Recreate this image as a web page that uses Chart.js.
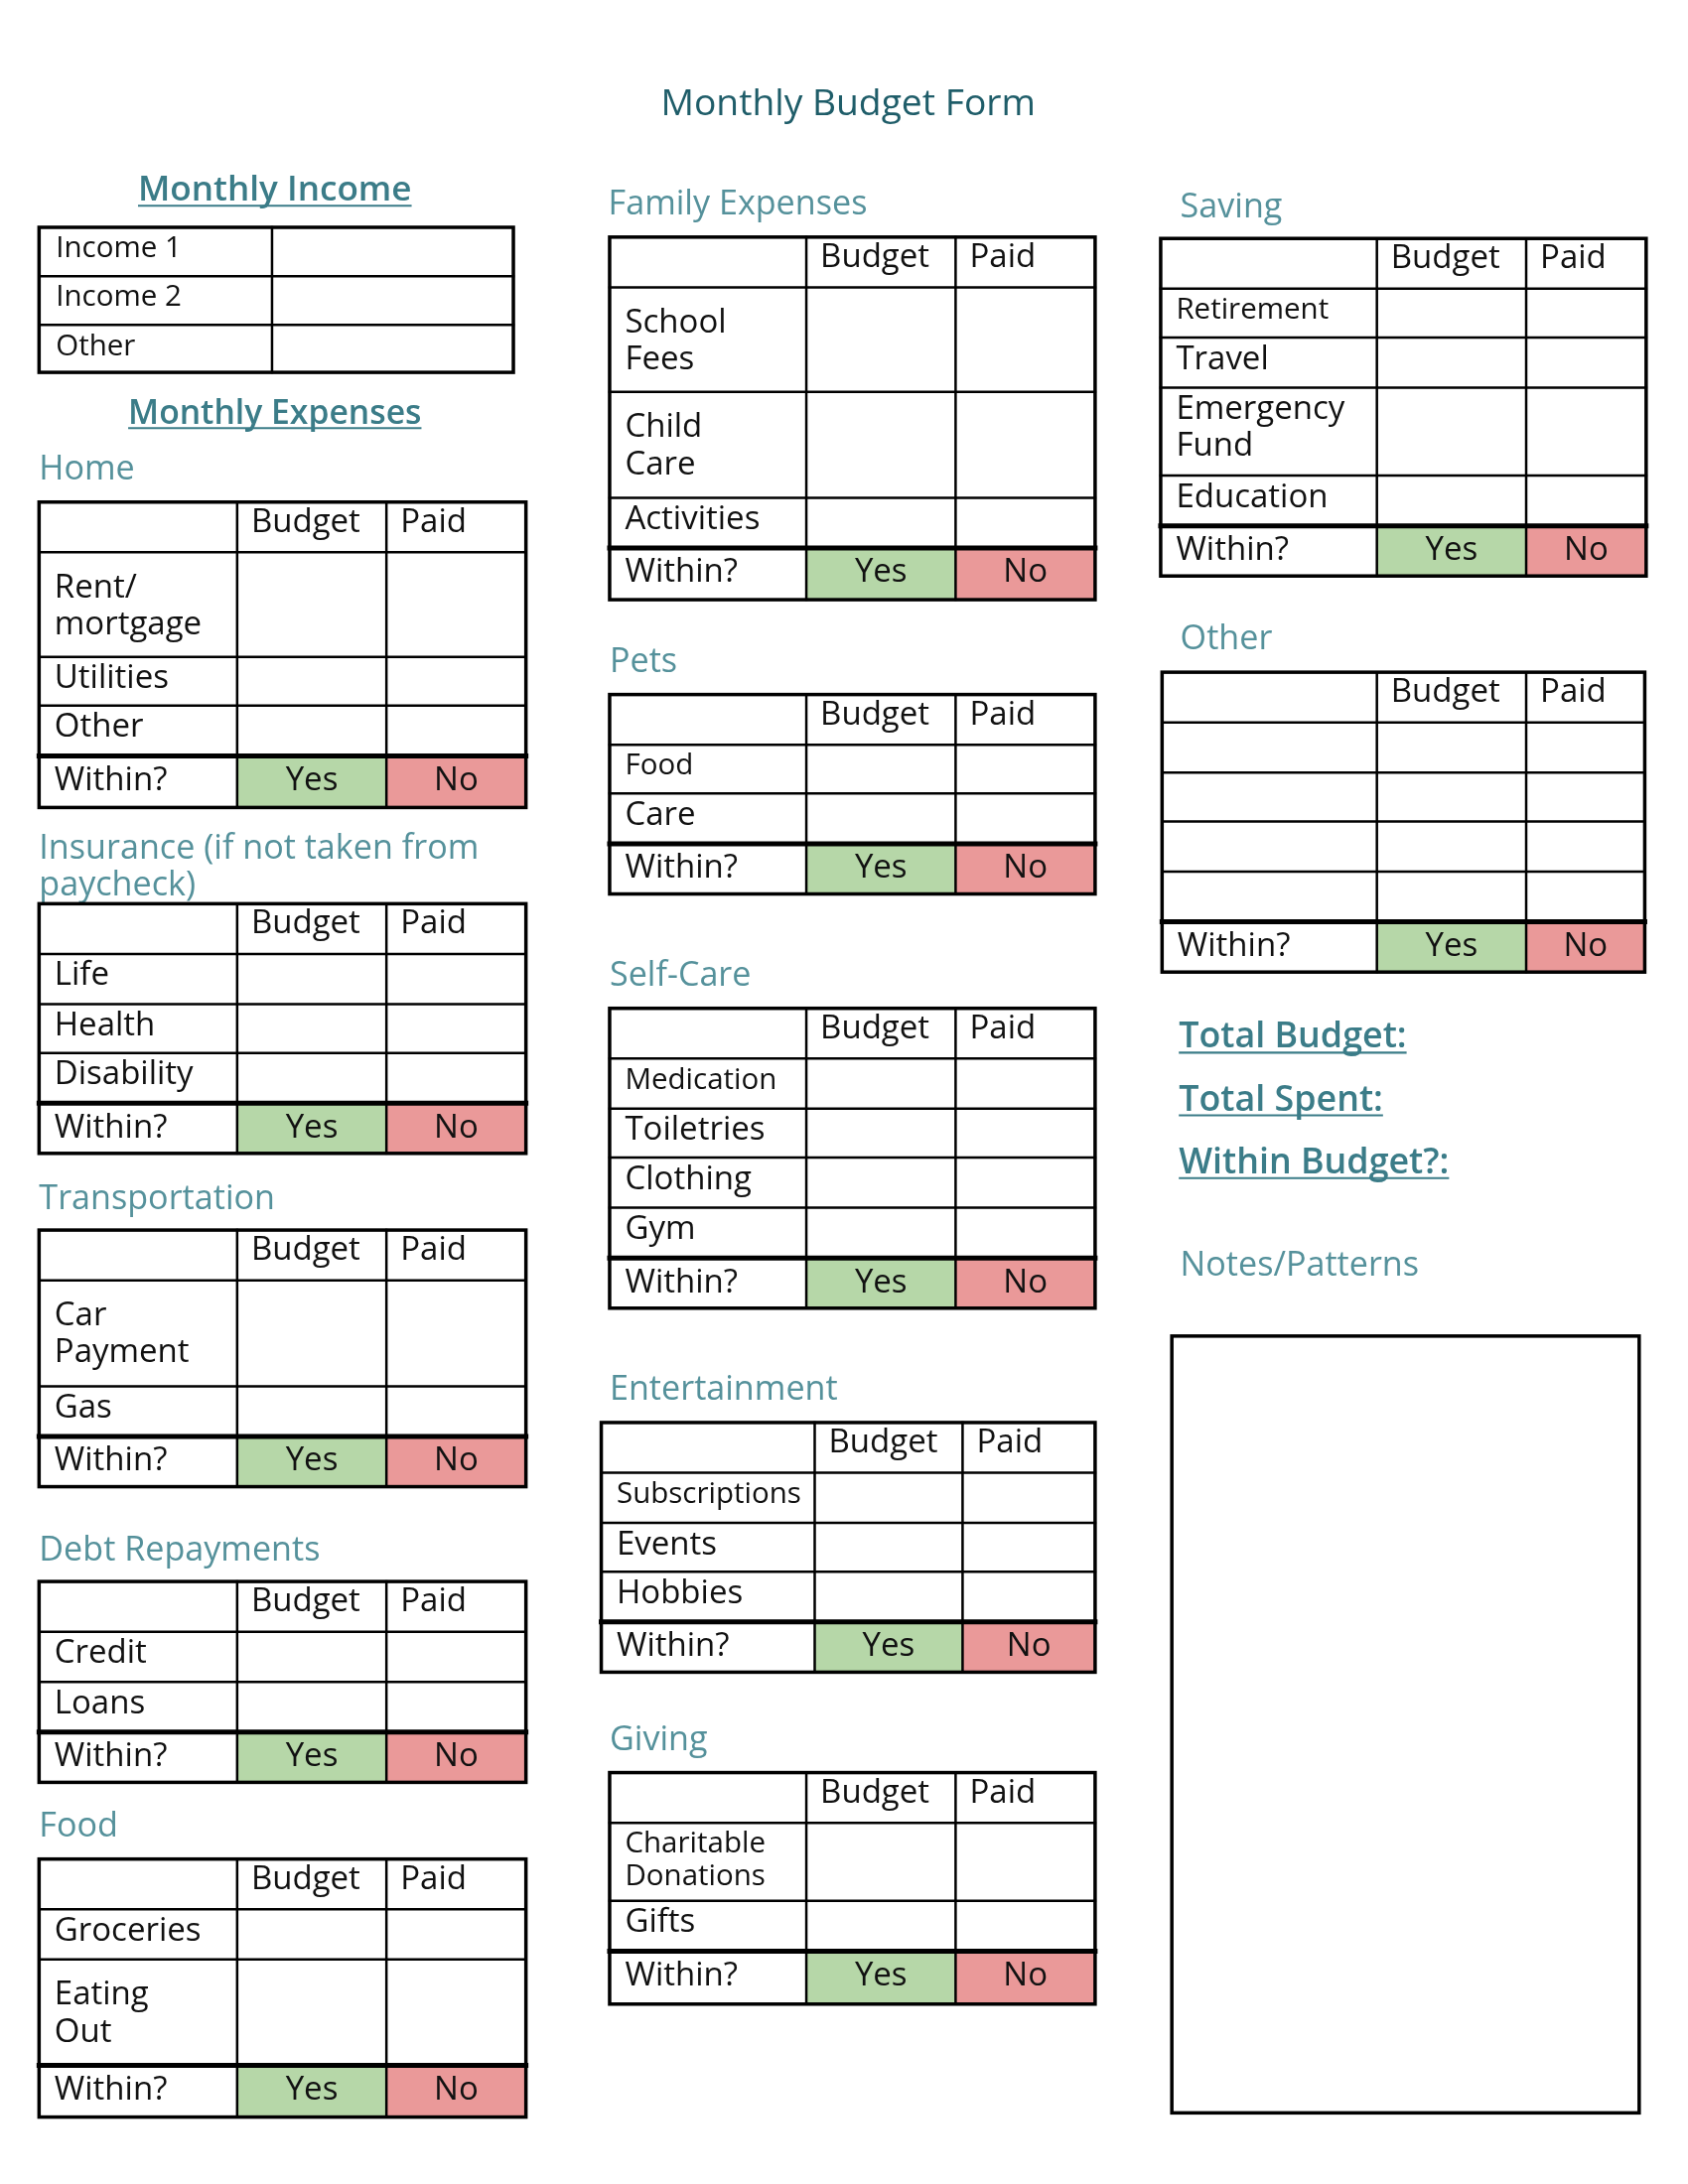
<!DOCTYPE html>
<html>
<head>
<meta charset="utf-8">
<script src="https://cdn.jsdelivr.net/npm/chart.js@4.4.1/dist/chart.umd.min.js"></script>
<style>
  html, body { margin: 0; padding: 0; background: #ffffff; }
  canvas { display: block; }
</style>
</head>
<body>
<canvas id="form" width="1700" height="2200"></canvas>
<script>
// Textos do formulário
const pageTitle = "Monthly Budget Form";
const incomeHeading = "Monthly Income";
const expensesHeading = "Monthly Expenses";
const colHeads = ["", "Budget", "Paid"];
const checkRow = ["Within?", "Yes", "No"];

const incomeRows = ["Income 1", "Income 2", "Other"];
const homeRows = ["Rent/\nmortgage", "Utilities", "Other"];
const insuranceRows = ["Life", "Health", "Disability"];
const transportRows = ["Car\nPayment", "Gas"];
const debtRows = ["Credit", "Loans"];
const foodRows = ["Groceries", "Eating\nOut"];
const familyRows = ["School\nFees", "Child\nCare", "Activities"];
const petRows = ["Food", "Care"];
const selfCareRows = ["Medication", "Toiletries", "Clothing", "Gym"];
const entertainmentRows = ["Subscriptions", "Events", "Hobbies"];
const givingRows = ["Charitable\nDonations", "Gifts"];
const savingRows = ["Retirement", "Travel", "Emergency\nFund", "Education"];
const otherRows = ["", "", "", ""];

const totalLines = ["Total Budget:", "Total Spent:", "Within Budget?:"];
const notesTitle = "Notes/Patterns";

// Unidades da página (o eixo vai de 0 a PAGE_W / PAGE_H)
const PAGE_W = 1210;
const PAGE_H = 1566;

// Cores
const corTitulo = "#1f5d69";
const corCabecalho = "#3b7c88";
const corSecao = "#55919b";
const corTexto = "#111111";
const corSim = "#b6d7a8";
const corNao = "#ea9999";

// Posição de cada tabela (colunas x e linhas y em unidades da página)
const col1 = [28, 170, 277, 377];
const col2 = [437, 578, 685, 785];
const col2e = [431, 584, 690, 785];
const col3 = [832, 987, 1094, 1180];
const col3o = [833, 987, 1094, 1179];

const tabelas = [
  { title: ["Home"], tx: 28, ty: 335, rows: homeRows, x: col1, y: [360, 396, 471, 506, 542, 579], small: [] },
  { title: ["Insurance (if not taken from", "paycheck)"], tx: 28, ty: 607, rows: insuranceRows, x: col1, y: [648, 684, 720, 755, 791, 827], small: [] },
  { title: ["Transportation"], tx: 28, ty: 858, rows: transportRows, x: col1, y: [882, 918, 994, 1030, 1066], small: [] },
  { title: ["Debt Repayments"], tx: 28, ty: 1110, rows: debtRows, x: col1, y: [1134, 1170, 1206, 1242, 1278], small: [] },
  { title: ["Food"], tx: 28, ty: 1308, rows: foodRows, x: col1, y: [1333, 1369, 1405, 1481, 1518], small: [] },
  { title: ["Family Expenses"], tx: 436, ty: 145, rows: familyRows, x: col2, y: [170, 206, 281, 357, 393, 430], small: [] },
  { title: ["Pets"], tx: 437, ty: 473, rows: petRows, x: col2, y: [498, 534, 569, 605, 641], small: [0] },
  { title: ["Self-Care"], tx: 437, ty: 698, rows: selfCareRows, x: col2, y: [723, 759, 795, 830, 866, 902, 938], small: [0] },
  { title: ["Entertainment"], tx: 437, ty: 995, rows: entertainmentRows, x: col2e, y: [1020, 1056, 1092, 1127, 1163, 1199], small: [0] },
  { title: ["Giving"], tx: 437, ty: 1246, rows: givingRows, x: col2, y: [1271, 1307, 1363, 1399, 1437], small: [0] },
  { title: ["Saving"], tx: 846, ty: 147, rows: savingRows, x: col3, y: [171, 207, 242, 278, 341, 377, 413], small: [0] },
  { title: ["Other"], tx: 846, ty: 457, rows: otherRows, x: col3o, y: [482, 518, 554, 589, 625, 661, 697], small: [] },
];

// Plugin que desenha o formulário usando as escalas do gráfico
const formularioPlugin = {
  id: "formulario",
  afterDraw(chart) {
    const { ctx, scales } = chart;
    const X = (v) => scales.x.getPixelForValue(v);
    const Y = (v) => scales.y.getPixelForValue(v);
    const S = (v) => scales.x.getPixelForValue(v) - scales.x.getPixelForValue(0);

    const FONTE = '"Open Sans", "Noto Sans", sans-serif';
    const corpo = 23.5;
    const pequeno = 21;

    function texto(str, x, y, size, cor, opts = {}) {
      ctx.save();
      ctx.font = (opts.bold ? "600 " : "400 ") + S(size) + "px " + FONTE;
      ctx.fillStyle = cor;
      ctx.textAlign = opts.align || "left";
      ctx.textBaseline = "alphabetic";
      const base = Y(y) + S(size) * 0.36;
      ctx.fillText(str, X(x), base);
      if (opts.underline) {
        const w = ctx.measureText(str).width;
        let x0 = X(x);
        if (opts.align === "center") x0 -= w / 2;
        ctx.strokeStyle = cor;
        ctx.lineWidth = S(size) * 0.06;
        ctx.beginPath();
        ctx.moveTo(x0, base + S(size) * 0.14);
        ctx.lineTo(x0 + w, base + S(size) * 0.14);
        ctx.stroke();
      }
      ctx.restore();
    }

    function linha(x0, y0, x1, y1, w) {
      ctx.save();
      ctx.strokeStyle = "#000000";
      ctx.lineWidth = w;
      ctx.lineCap = "square";
      ctx.beginPath();
      ctx.moveTo(X(x0), Y(y0));
      ctx.lineTo(X(x1), Y(y1));
      ctx.stroke();
      ctx.restore();
    }

    function retangulo(x0, y0, x1, y1, w) {
      ctx.save();
      ctx.strokeStyle = "#000000";
      ctx.lineWidth = w;
      ctx.strokeRect(X(x0), Y(y0), X(x1) - X(x0), Y(y1) - Y(y0));
      ctx.restore();
    }

    function preenche(x0, y0, x1, y1, cor) {
      ctx.fillStyle = cor;
      ctx.fillRect(X(x0), Y(y0), X(x1) - X(x0), Y(y1) - Y(y0));
    }

    function rotulo(str, x, top, h, isSmall) {
      const linhas = str.split("\n");
      const size = isSmall ? pequeno : corpo;
      const gap = isSmall ? 23 : 26.5;
      const primeiro = h > 70 ? 24 : 14;
      linhas.forEach((l, i) => texto(l, x, top + primeiro + i * gap, size, corTexto));
    }

    // Título
    texto(pageTitle, 608, 73, 26.5, corTitulo, { align: "center" });

    // Renda mensal
    texto(incomeHeading, 197, 135, 25, corCabecalho, { align: "center", underline: true, bold: true });
    const incX = [28, 195, 368];
    const incY = [163, 198, 233, 267];
    for (let i = 1; i < incY.length - 1; i++) linha(incX[0], incY[i], incX[2], incY[i], 2.5);
    linha(incX[1], incY[0], incX[1], incY[3], 2.5);
    retangulo(incX[0], incY[0], incX[2], incY[3], 3.5);
    incomeRows.forEach((r, i) => texto(r, incX[0] + 12, incY[i] + 14, 21, corTexto));

    texto(expensesHeading, 197, 295, 24, corCabecalho, { align: "center", underline: true, bold: true });

    // Tabelas de despesas
    tabelas.forEach((t) => {
      const xs = t.x;
      const ys = t.y;
      const n = ys.length - 1;

      t.title.forEach((l, i) => texto(l, t.tx, t.ty + i * 26, 24.3, corSecao));

      preenche(xs[1], ys[n - 1], xs[2], ys[n], corSim);
      preenche(xs[2], ys[n - 1], xs[3], ys[n], corNao);

      for (let i = 1; i < n; i++) {
        linha(xs[0], ys[i], xs[3], ys[i], i === n - 1 ? 5 : 2.5);
      }
      linha(xs[1], ys[0], xs[1], ys[n], 2.5);
      linha(xs[2], ys[0], xs[2], ys[n], 2.5);
      retangulo(xs[0], ys[0], xs[3], ys[n], 3.5);

      texto(colHeads[1], xs[1] + 10, ys[0] + 13, corpo, corTexto);
      texto(colHeads[2], xs[2] + 10, ys[0] + 13, corpo, corTexto);

      t.rows.forEach((r, i) => {
        rotulo(r, xs[0] + 11, ys[i + 1], ys[i + 2] - ys[i + 1], t.small.includes(i));
      });

      texto(checkRow[0], xs[0] + 11, ys[n - 1] + 16, corpo, corTexto);
      texto(checkRow[1], (xs[1] + xs[2]) / 2, ys[n - 1] + 16, corpo, corTexto, { align: "center" });
      texto(checkRow[2], (xs[2] + xs[3]) / 2, ys[n - 1] + 16, corpo, corTexto, { align: "center" });
    });

    // Totais
    const totalY = [742, 787, 832];
    totalLines.forEach((l, i) => texto(l, 845, totalY[i], 25.5, corCabecalho, { underline: true, bold: true }));

    // Notas
    texto(notesTitle, 846, 906, 24.3, corSecao);
    retangulo(840, 958, 1175, 1515, 3.5);
  },
};

new Chart(document.getElementById("form"), {
  type: "scatter",
  data: { datasets: [] },
  options: {
    responsive: false,
    animation: false,
    devicePixelRatio: 1,
    layout: { padding: 0 },
    scales: {
      x: { type: "linear", min: 0, max: PAGE_W, display: false },
      y: { type: "linear", min: 0, max: PAGE_H, reverse: true, display: false },
    },
    plugins: {
      legend: { display: false },
      tooltip: { enabled: false },
    },
  },
  plugins: [formularioPlugin],
});
</script>
</body>
</html>
